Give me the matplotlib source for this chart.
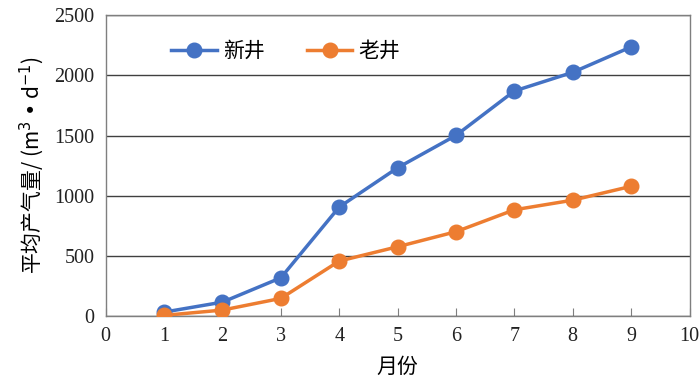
import matplotlib
matplotlib.use("Agg")
import matplotlib.pyplot as plt

months = [1, 2, 3, 4, 5, 6, 7, 8, 9]
new_well = [33, 116, 318, 906, 1232, 1501, 1870, 2025, 2236]
old_well = [6, 50, 147, 457, 576, 701, 883, 963, 1078]
series_names = ["新井", "老井"]

cjk = ['Noto Sans CJK SC', 'DejaVu Sans']
serif = ['Liberation Serif', 'DejaVu Serif']

fig = plt.figure(figsize=(7, 3.79), dpi=100)
ax = fig.add_axes([0.151, 0.166, 0.834, 0.794])

ax.plot(months, new_well, color='#4472C4', lw=2.5, marker='o', ms=10.5, label=series_names[0], zorder=3)
ax.plot(months, old_well, color='#ED7D31', lw=2.5, marker='o', ms=10.5, label=series_names[1], zorder=3)

ax.set_xlim(0, 10)
ax.set_ylim(0, 2500)
ax.set_xticks(range(0, 11))
ax.set_yticks(range(0, 2501, 500))
ax.grid(axis='y', color='#404040', lw=1)
ax.set_axisbelow(True)
for s in ax.spines.values():
    s.set_color('#7f7f7f')
    s.set_linewidth(1)
ax.tick_params(axis='x', direction='in', length=6, color='#7f7f7f', pad=8)
ax.tick_params(axis='y', length=0, pad=8)
for lab in ax.get_xticklabels() + ax.get_yticklabels():
    lab.set_family(serif)
    lab.set_fontsize(14.5)
    lab.set_color('#222222')

ax.set_xlabel("月份", family=cjk, fontsize=15, labelpad=7)
ax.set_ylabel("平均产气量/ (m$^{3}$ • d$^{-1}$)", family=cjk, fontsize=15, labelpad=6)

leg = ax.legend(loc='upper left', bbox_to_anchor=(0.08, 0.98), ncol=2, frameon=False,
                prop={'family': cjk, 'size': 15}, handlelength=2.2, columnspacing=2.0,
                handletextpad=0.3)

fig.savefig("out.png", dpi=100)
